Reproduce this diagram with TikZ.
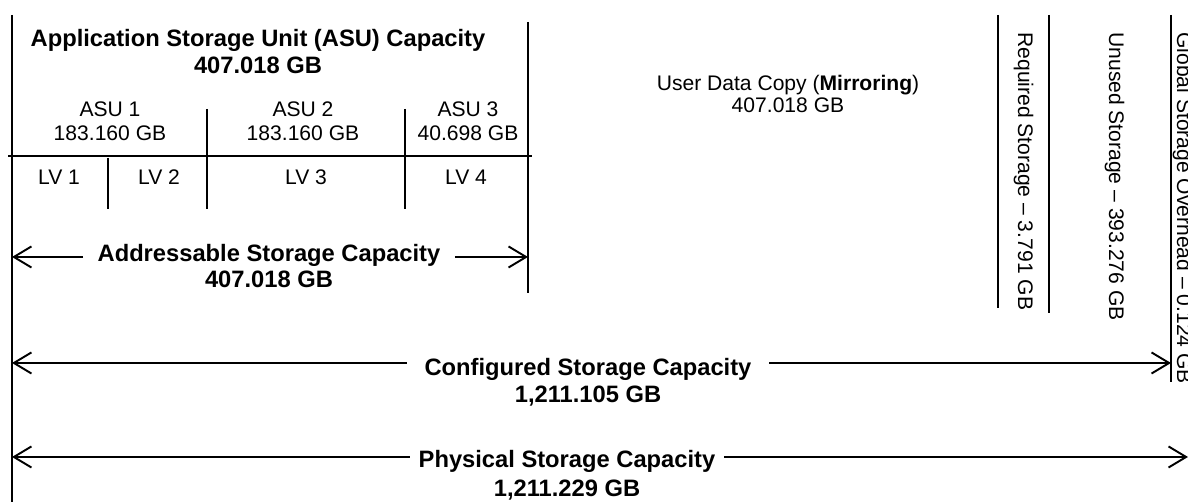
\documentclass[tikz,border=0pt]{standalone}
\usepackage{fontspec}
\setmainfont{Liberation Sans}
\usetikzlibrary{arrows.meta,positioning}

\begin{document}
\begin{tikzpicture}[x=0.02cm,y=-0.02cm,
  lbl/.style={font=\fontsize{12}{14}\selectfont,inner sep=0pt,anchor=base},
  blbl/.style={font=\fontsize{13.5}{16}\selectfont\bfseries,inner sep=0pt,anchor=base},
  vlbl/.style={lbl,rotate=-90,anchor=base west},
  frame/.style={line width=1.2pt},
  tick/.style={line width=0.8pt},
  dim/.style={line width=1.1pt,-{Straight Barb[length=10pt,width=12pt,line width=1.1pt]}}]
\useasboundingbox (0,0) rectangle (1188,502);

% ASU block
\node[blbl] (asu) at (258,47) {Application Storage Unit (ASU) Capacity};
\node[blbl] (asuval) at (258,74) {407.018 GB};

\node[lbl] (a1) at (110,117) {ASU 1};
\node[lbl] (a1val) at (110,141) {183.160 GB};
\node[lbl] (a2) at (303,117) {ASU 2};
\node[lbl] (a2val) at (303,141) {183.160 GB};
\node[lbl] (a3) at (468,117) {ASU 3};
\node[lbl] (a3val) at (468,141) {40.698 GB};

\node[lbl] (lv1) at (59,185) {LV 1};
\node[lbl] (lv2) at (159,185) {LV 2};
\node[lbl] (lv3) at (306,185) {LV 3};
\node[lbl] (lv4) at (466,185) {LV 4};

\node[blbl,inner xsep=8pt] (addr) at (269,262) {Addressable Storage Capacity};
\node[blbl] (addrval) at (269,288) {407.018 GB};

% mirror copy and overhead
\node[lbl] (copy) at (788,91) {User Data Copy (\textbf{Mirroring})};
\node[lbl] (copyval) at (788,113) {407.018 GB};

\node[vlbl] (req) at (1018,32) {Required Storage – 3.791 GB};
\node[vlbl] (unused) at (1109,32) {Unused Storage – 393.276 GB};
\node[vlbl] (gso) at (1177,32) {Global Storage Overhead – 0.124 GB};

% totals
\node[blbl,inner xsep=10pt] (cfg) at (588,376) {Configured Storage Capacity};
\node[blbl] (cfgval) at (588,403) {1,211.105 GB};
\node[blbl,inner xsep=5pt] (phys) at (567,468) {Physical Storage Capacity};
\node[blbl] (physval) at (567,497) {1,211.229 GB};

% frame lines
\draw[frame] (12,15) -- (12,502);
\draw[frame] (528,22) -- (528,293);
\draw[tick] (8,156) -- (532,156);
\draw[tick] (207,109) -- (207,209);
\draw[tick] (405,109) -- (405,209);
\draw[tick] (108,158) -- (108,209);
\draw[tick] (998,15) -- (998,308);
\draw[tick] (1049,15) -- (1049,313);
\draw[tick] (1171,15) -- (1171,382);

% dimension arrows
\coordinate (addrL) at (12,257);
\coordinate (addrR) at (528,257);
\coordinate (cfgL) at (12,363);
\coordinate (cfgR) at (1171,363);
\coordinate (physL) at (12,457);
\coordinate (physR) at (1188,457);

\draw[dim] (addr.west |- addrL) -- (addrL);
\draw[dim] (addr.east |- addrR) -- (addrR);
\draw[dim] (cfg.west |- cfgL) -- (cfgL);
\draw[dim] (cfg.east |- cfgR) -- (cfgR);
\draw[dim] (phys.west |- physL) -- (physL);
\draw[dim] (phys.east |- physR) -- (physR);
\end{tikzpicture}
\end{document}
